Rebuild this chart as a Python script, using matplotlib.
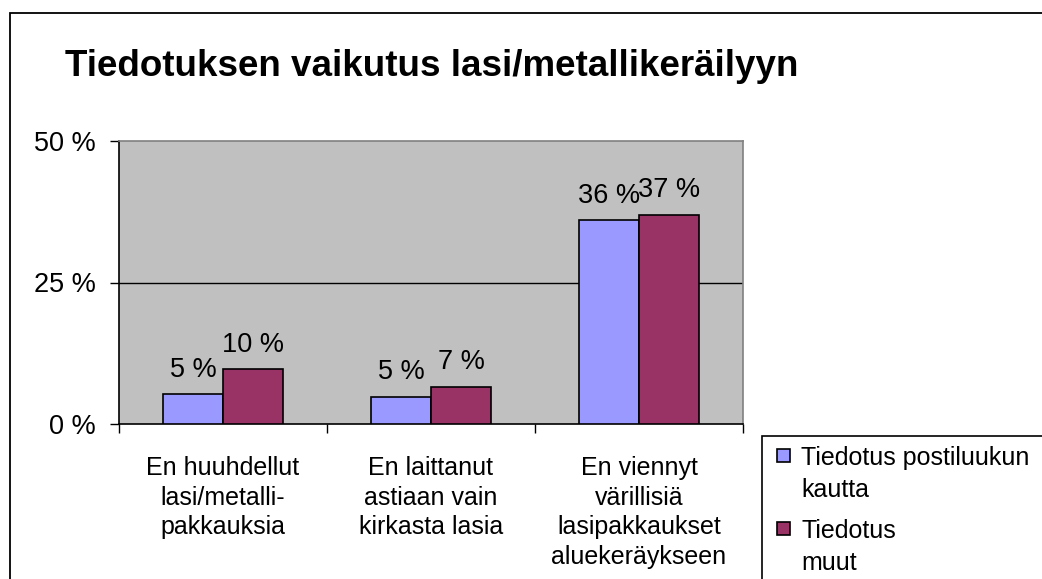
import matplotlib
matplotlib.use('Agg')
import matplotlib.pyplot as plt
from matplotlib.patches import Rectangle

categories = ['En huuhdellut\nlasi/metalli-\npakkauksia',
              'En laittanut\nastiaan vain\nkirkasta lasia',
              'En viennyt\nvärillisiä\nlasipakkaukset\naluekeräykseen']
posti = [5.3, 4.8, 36.0]
muut = [9.7, 6.6, 37.0]
posti_labels = ['5 %', '5 %', '36 %']
muut_labels = ['10 %', '7 %', '37 %']
series_names = ['Tiedotus postiluukun\nkautta', 'Tiedotus\nmuut']
series_colors = ['#9999FF', '#993366']
yticks = [0, 25, 50]
ytick_labels = ['0 %', '25 %', '50 %']
title = 'Tiedotuksen vaikutus lasi/metallikeräilyyn'

plt.rcParams['font.family'] = ['Liberation Sans', 'DejaVu Sans']

W, H = 1042, 579
fig = plt.figure(figsize=(W / 100, H / 100), dpi=100)


def fx(px):
    return px / W


def fy(py):
    return 1 - py / H


# outer chart border (runs off the right and bottom edges)
fig.patches.append(Rectangle((fx(10), -0.1), 1.2, fy(13) + 0.1,
                             transform=fig.transFigure, fill=False,
                             edgecolor='black', linewidth=1.3))

ax = fig.add_axes([fx(119), fy(424), (743 - 119) / W, (424 - 141) / H])
ax.set_facecolor('#C0C0C0')

x = list(range(len(categories)))
bw = 0.288
b1 = ax.bar([i - bw / 2 for i in x], posti, bw, color=series_colors[0],
            edgecolor='black', linewidth=1.2, zorder=3)
b2 = ax.bar([i + bw / 2 for i in x], muut, bw, color=series_colors[1],
            edgecolor='black', linewidth=1.2, zorder=3)

for bars, labels in [(b1, posti_labels), (b2, muut_labels)]:
    for rect, lab in zip(bars, labels):
        ax.annotate(lab, (rect.get_x() + rect.get_width() / 2, rect.get_height()),
                    xytext=(0, 12.5), textcoords='offset points',
                    ha='center', va='baseline', fontsize=19.5)

ax.set_xlim(-0.5, 2.5)
ax.set_ylim(0, 50)
ax.axhline(25, color='black', linewidth=1, zorder=2)

ax.set_yticks(yticks)
ax.set_yticklabels(ytick_labels, fontsize=19.5)
ax.tick_params(axis='y', length=6.5, width=1, pad=10)

ax.set_xticks(x)
ax.set_xticklabels(categories, fontsize=18, linespacing=1.3)
ax.tick_params(axis='x', which='major', length=0, pad=23)
ax.set_xticks([-0.5, 0.5, 1.5, 2.5], minor=True)
ax.tick_params(axis='x', which='minor', length=6.5, width=1)

for s in ['left', 'bottom']:
    ax.spines[s].set_color('black')
    ax.spines[s].set_linewidth(1.2)
for s in ['top', 'right']:
    ax.spines[s].set_color('#808080')
    ax.spines[s].set_linewidth(1.2)

fig.text(fx(65), fy(76), title, fontsize=26.5, fontweight='bold',
         ha='left', va='baseline')

# legend box (cut off by the figure edge like in the original)
fig.patches.append(Rectangle((fx(762), -0.1), 1.0, fy(436) + 0.1,
                             transform=fig.transFigure, fill=False,
                             edgecolor='black', linewidth=1.2))
leg_top = [449, 522]
for name, col, top in zip(series_names, series_colors, leg_top):
    fig.patches.append(Rectangle((fx(777), fy(top + 13)), 13 / W, 13 / H,
                                 transform=fig.transFigure, facecolor=col,
                                 edgecolor='black', linewidth=1.2))
    for k, line in enumerate(name.split('\n')):
        fig.text(fx(801), fy(top + 16 + 32 * k), line, fontsize=18,
                 ha='left', va='baseline')

fig.savefig('out.png', dpi=100)
